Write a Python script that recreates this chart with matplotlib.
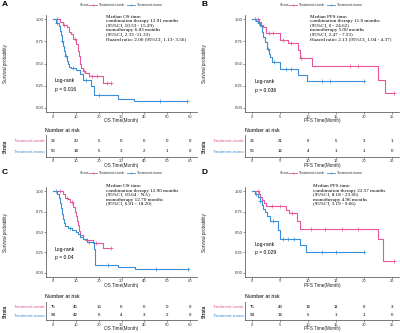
import numpy as np
import matplotlib.pyplot as plt
from matplotlib.lines import Line2D

plt.rcParams['font.family'] = ['Liberation Sans', 'DejaVu Sans']

PINK = '#E8559A'
BLUE = '#3A8FD6'
AXC = '#444444'

groups = ['Treatment-comb', 'Treatment-mono']

# ---- panel A: OS, first cohort
a_comb_t = [0, 3, 4.5, 6, 7, 8, 9, 10, 10.8, 11.5, 12, 12.5, 13, 14, 16, 22, 25.5]
a_comb_s = [1.0, 0.97, 0.94, 0.91, 0.86, 0.83, 0.78, 0.72, 0.64, 0.58, 0.50, 0.45, 0.42, 0.39, 0.36, 0.28, 0.28]
a_comb_c = [2, 5, 9.5, 13.5, 17, 19.5, 23.5, 25.5]
a_mono_t = [0, 1.5, 2.5, 3, 3.5, 4, 4.5, 5, 5.5, 6, 6.5, 7, 8, 10, 12, 13, 16.5, 18, 28.5, 35.5, 58.5]
a_mono_s = [1.0, 0.96, 0.92, 0.87, 0.82, 0.76, 0.70, 0.64, 0.58, 0.53, 0.49, 0.46, 0.45, 0.43, 0.38, 0.31, 0.24, 0.14, 0.10, 0.07, 0.07]
a_mono_c = [2, 4.2, 5.8, 9, 14.5, 20, 47, 58.5]
a_note = ("Median OS time:\ncombination therapy 12.91 months\n(95%CI, 10.53 - 15.29)\n"
          "monotherapy 6.83 months\n(95%CI, 2.33 -11.33)\nHazard ratio: 2.00 (95%CI, 1.13- 3.56)")
a_p = "p = 0.016"
a_risk_comb = [36, 20, 5, 0, 0, 0, 0]
a_risk_mono = [56, 18, 5, 3, 2, 1, 0]

# ---- panel B: PFS, first cohort
b_comb_t = [0, 1.2, 1.6, 2.0, 2.5, 5.0, 6.5, 8.2, 8.6, 10.8, 22.5, 23.7, 25.4]
b_comb_s = [1.0, 0.97, 0.94, 0.91, 0.85, 0.77, 0.73, 0.65, 0.56, 0.47, 0.31, 0.16, 0.16]
b_comb_c = [1.0, 3.0, 3.8, 5.5, 7.0, 8.8, 17.5, 19.0, 25.4]
b_mono_t = [0, 0.8, 1.1, 1.4, 1.7, 2.0, 2.3, 2.6, 3.0, 3.3, 3.6, 5.0, 8.2, 9.8, 20]
b_mono_s = [1.0, 0.98, 0.96, 0.92, 0.86, 0.80, 0.74, 0.66, 0.61, 0.57, 0.52, 0.44, 0.37, 0.30, 0.30]
b_mono_c = [0.5, 1.2, 2.8, 4.0, 6.0, 7.0, 12.5, 14.0, 20]
b_note = ("Median PFS time:\ncombination therapy 11.0 months\n(95%CI, 0 - 24.62)\n"
          "monotherapy 5.00 months\n(95%CI, 2.47 - 7.53)\nHazard ratio: 2.13 (95%CI, 1.04 - 4.37)")
b_p = "p = 0.036"
b_risk_comb = [36, 21, 6, 5, 3, 1]
b_risk_mono = [56, 12, 4, 1, 1, 0]

# ---- panel C: OS, second cohort
c_comb_t = [0, 4.5, 5.5, 6.5, 7.6, 9.0, 9.7, 10.2, 10.6, 11.0, 11.5, 12.0, 13.0, 14.0, 17.5, 22, 25.5]
c_comb_s = [1.0, 0.96, 0.92, 0.90, 0.87, 0.81, 0.75, 0.70, 0.64, 0.58, 0.51, 0.46, 0.42, 0.40, 0.37, 0.30, 0.30]
c_comb_c = [3, 6, 8.5, 15, 19, 25.5]
c_mono_t = [0, 2.0, 2.5, 3.0, 3.5, 4.0, 4.5, 5.0, 5.5, 6.5, 8.2, 10, 11, 12, 13, 15, 18.0, 18.4, 28.5, 36, 59]
c_mono_s = [1.0, 0.96, 0.91, 0.85, 0.79, 0.72, 0.66, 0.61, 0.57, 0.55, 0.53, 0.50, 0.47, 0.44, 0.41, 0.38, 0.29, 0.10, 0.07, 0.05, 0.05]
c_mono_c = [1.5, 7.5, 16, 24, 45, 59]
c_note = ("Median OS time:\ncombination therapy 12.90 months\n(95%CI, 10.64 - NA)\n"
          "monotherapy 12.70 months\n(95%CI, 6.01 - 18.20)")
c_p = "p = 0.04"
c_risk_comb = [75, 45, 15, 0, 0, 0, 0]
c_risk_mono = [94, 42, 6, 4, 3, 2, 0]

# ---- panel D: PFS, second cohort
d_comb_t = [0, 1.2, 1.5, 1.8, 2.2, 2.5, 6.0, 6.6, 8.0, 8.5, 22.5, 23.4, 25.3]
d_comb_s = [1.0, 0.97, 0.93, 0.89, 0.85, 0.82, 0.77, 0.73, 0.64, 0.54, 0.42, 0.15, 0.15]
d_comb_c = [1.0, 3.5, 5.0, 7.2, 10.5, 13.0, 16.0, 19.0, 25.3]
d_mono_t = [0, 0.6, 1.0, 1.4, 1.7, 2.0, 2.3, 2.6, 3.2, 4.6, 5.0, 8.6, 9.6, 20]
d_mono_s = [1.0, 0.97, 0.93, 0.88, 0.83, 0.78, 0.74, 0.70, 0.63, 0.53, 0.42, 0.34, 0.26, 0.26]
d_mono_c = [0.8, 1.5, 3.8, 5.5, 6.5, 7.5, 12.5, 15.0, 20]
d_note = ("Median PFS time:\ncombination therapy 22.57 months\n(95%CI, 8.18 - 23.66)\n"
          "monotherapy 4.96 months\n(95%CI, 3.19 - 9.66)")
d_p = "p = 0.029"
d_risk_comb = [75, 43, 16, 11, 6, 3]
d_risk_mono = [94, 16, 5, 1, 1, 0]

W, H = 400, 333
fig = plt.figure(figsize=(4, 3.33), dpi=100)


def box(l, t, r, b):
    return [l / W, 1 - b / H, (r - l) / W, (b - t) / H]


def style(ax):
    for s in ['top', 'right']:
        ax.spines[s].set_visible(False)
    for s in ['left', 'bottom']:
        ax.spines[s].set_color(AXC)
        ax.spines[s].set_linewidth(0.5)
    ax.tick_params(length=1.2, width=0.4, color=AXC, labelsize=3.0, pad=0.6, labelcolor='#333333')


def km(ax, t, s, c, col):
    ax.step(t, s, where='post', color=col, lw=0.8)
    idx = np.searchsorted(t, c, side='right') - 1
    ax.plot(c, np.array(s)[idx], '+', color=col, ms=2.4, mew=0.5, ls='none')


def legend(x0, y0):
    y = 1 - y0 / H
    fig.text(x0 / W, y, "Strata", fontsize=2.5, va='center', color='#333333')
    for k, (g, col) in enumerate(zip(groups, [PINK, BLUE])):
        xs = x0 + 9 + k * 38
        fig.add_artist(Line2D([xs / W, (xs + 8) / W], [y, y], color=col, lw=0.6))
        fig.add_artist(Line2D([(xs + 4) / W], [y], color=col, marker='+', ms=2, mew=0.5))
        fig.text((xs + 10) / W, y, g, fontsize=2.5, va='center', color='#333333')


def panel(letter, lx, ty, mbox, tbox, xmax, xstep, xlab, comb, mono, note, note_xy,
          pval, lr_xy, risk_comb, risk_mono, nr_xy):
    ax = fig.add_axes(box(*mbox))
    style(ax)
    km(ax, *comb, PINK)
    km(ax, *mono, BLUE)
    pad = xmax * 0.05
    ax.set_xlim(-pad, xmax + pad)
    ax.set_ylim(-0.05, 1.05)
    ticks = np.arange(0, xmax + 1, xstep)
    ax.set_xticks(ticks)
    ax.set_yticks([0, 0.25, 0.5, 0.75, 1.0])
    ax.set_yticklabels(["0.00", "0.25", "0.50", "0.75", "1.00"])
    mh = mbox[3] - mbox[1]
    ax.set_xlabel(xlab, fontsize=3.3, color='#222222')
    ax.xaxis.set_label_coords(0.5, -6.3 / mh)
    ax.set_ylabel("Survival probability", fontsize=3.3, color='#222222')
    ax.yaxis.set_label_coords(-0.25, 0.5)
    ax.text(note_xy[0], note_xy[1], note, transform=ax.transAxes, va='top', ha='left',
            fontsize=3.7, family='Liberation Serif', linespacing=1.15)
    ax.text(lr_xy[0], lr_xy[1], "Log-rank", transform=ax.transAxes, fontsize=3.6, va='center')
    ax.text(lr_xy[0], lr_xy[1] - 0.09, pval, transform=ax.transAxes, fontsize=3.6, va='center')

    fig.text(lx / W, 1 - ty / H, letter, fontsize=6, fontweight='bold', va='center')
    legend(lx + 78, ty)

    at = fig.add_axes(box(*tbox))
    style(at)
    at.set_xlim(-pad, xmax + pad)
    at.set_ylim(0.5, 2.5)
    at.set_xticks(ticks)
    for x, n1, n2 in zip(ticks, risk_comb, risk_mono):
        at.text(x, 2, str(n1), ha='center', va='center', fontsize=3.2)
        at.text(x, 1, str(n2), ha='center', va='center', fontsize=3.2)
    at.set_yticks([1, 2])
    at.set_yticklabels([groups[1], groups[0]])
    at.tick_params(axis='y', length=0, labelsize=3.2)
    for lab, col in zip(at.get_yticklabels(), [BLUE, PINK]):
        lab.set_color(col)
    th = tbox[3] - tbox[1]
    at.set_xlabel(xlab, fontsize=3.3, color='#222222')
    at.xaxis.set_label_coords(0.5, -6.3 / th)
    at.set_ylabel("Strata", fontsize=3.3, color='#222222', fontweight='bold')
    at.yaxis.set_label_coords(-0.25, 0.5)
    fig.text(nr_xy[0] / W, 1 - nr_xy[1] / H, "Number at risk", fontsize=3.8, va='center')


panel("A", 2, 5, (46, 15, 197, 112), (46, 135, 197, 157), 60, 10, "OS Time(Month)",
      (a_comb_t, a_comb_s, a_comb_c), (a_mono_t, a_mono_s, a_mono_c), a_note, (0.40, 1.0),
      a_p, (0.06, 0.32), a_risk_comb, a_risk_mono, (45, 130))
panel("B", 202, 5, (245, 15, 399, 112), (245, 135, 399, 157), 25, 5, "PFS Time(Month)",
      (b_comb_t, b_comb_s, b_comb_c), (b_mono_t, b_mono_s, b_mono_c), b_note, (0.42, 1.0),
      b_p, (0.065, 0.31), b_risk_comb, b_risk_mono, (245, 130))
panel("C", 2, 173, (46, 187, 197, 277), (46, 302, 197, 320), 60, 10, "OS Time(Month)",
      (c_comb_t, c_comb_s, c_comb_c), (c_mono_t, c_mono_s, c_mono_c), c_note, (0.40, 1.03),
      c_p, (0.06, 0.31), c_risk_comb, c_risk_mono, (45, 297))
panel("D", 202, 173, (245, 187, 399, 277), (245, 302, 399, 320), 25, 5, "PFS Time(Month)",
      (d_comb_t, d_comb_s, d_comb_c), (d_mono_t, d_mono_s, d_mono_c), d_note, (0.44, 1.03),
      d_p, (0.065, 0.36), d_risk_comb, d_risk_mono, (245, 297))

fig.savefig("out.png", dpi=100)
